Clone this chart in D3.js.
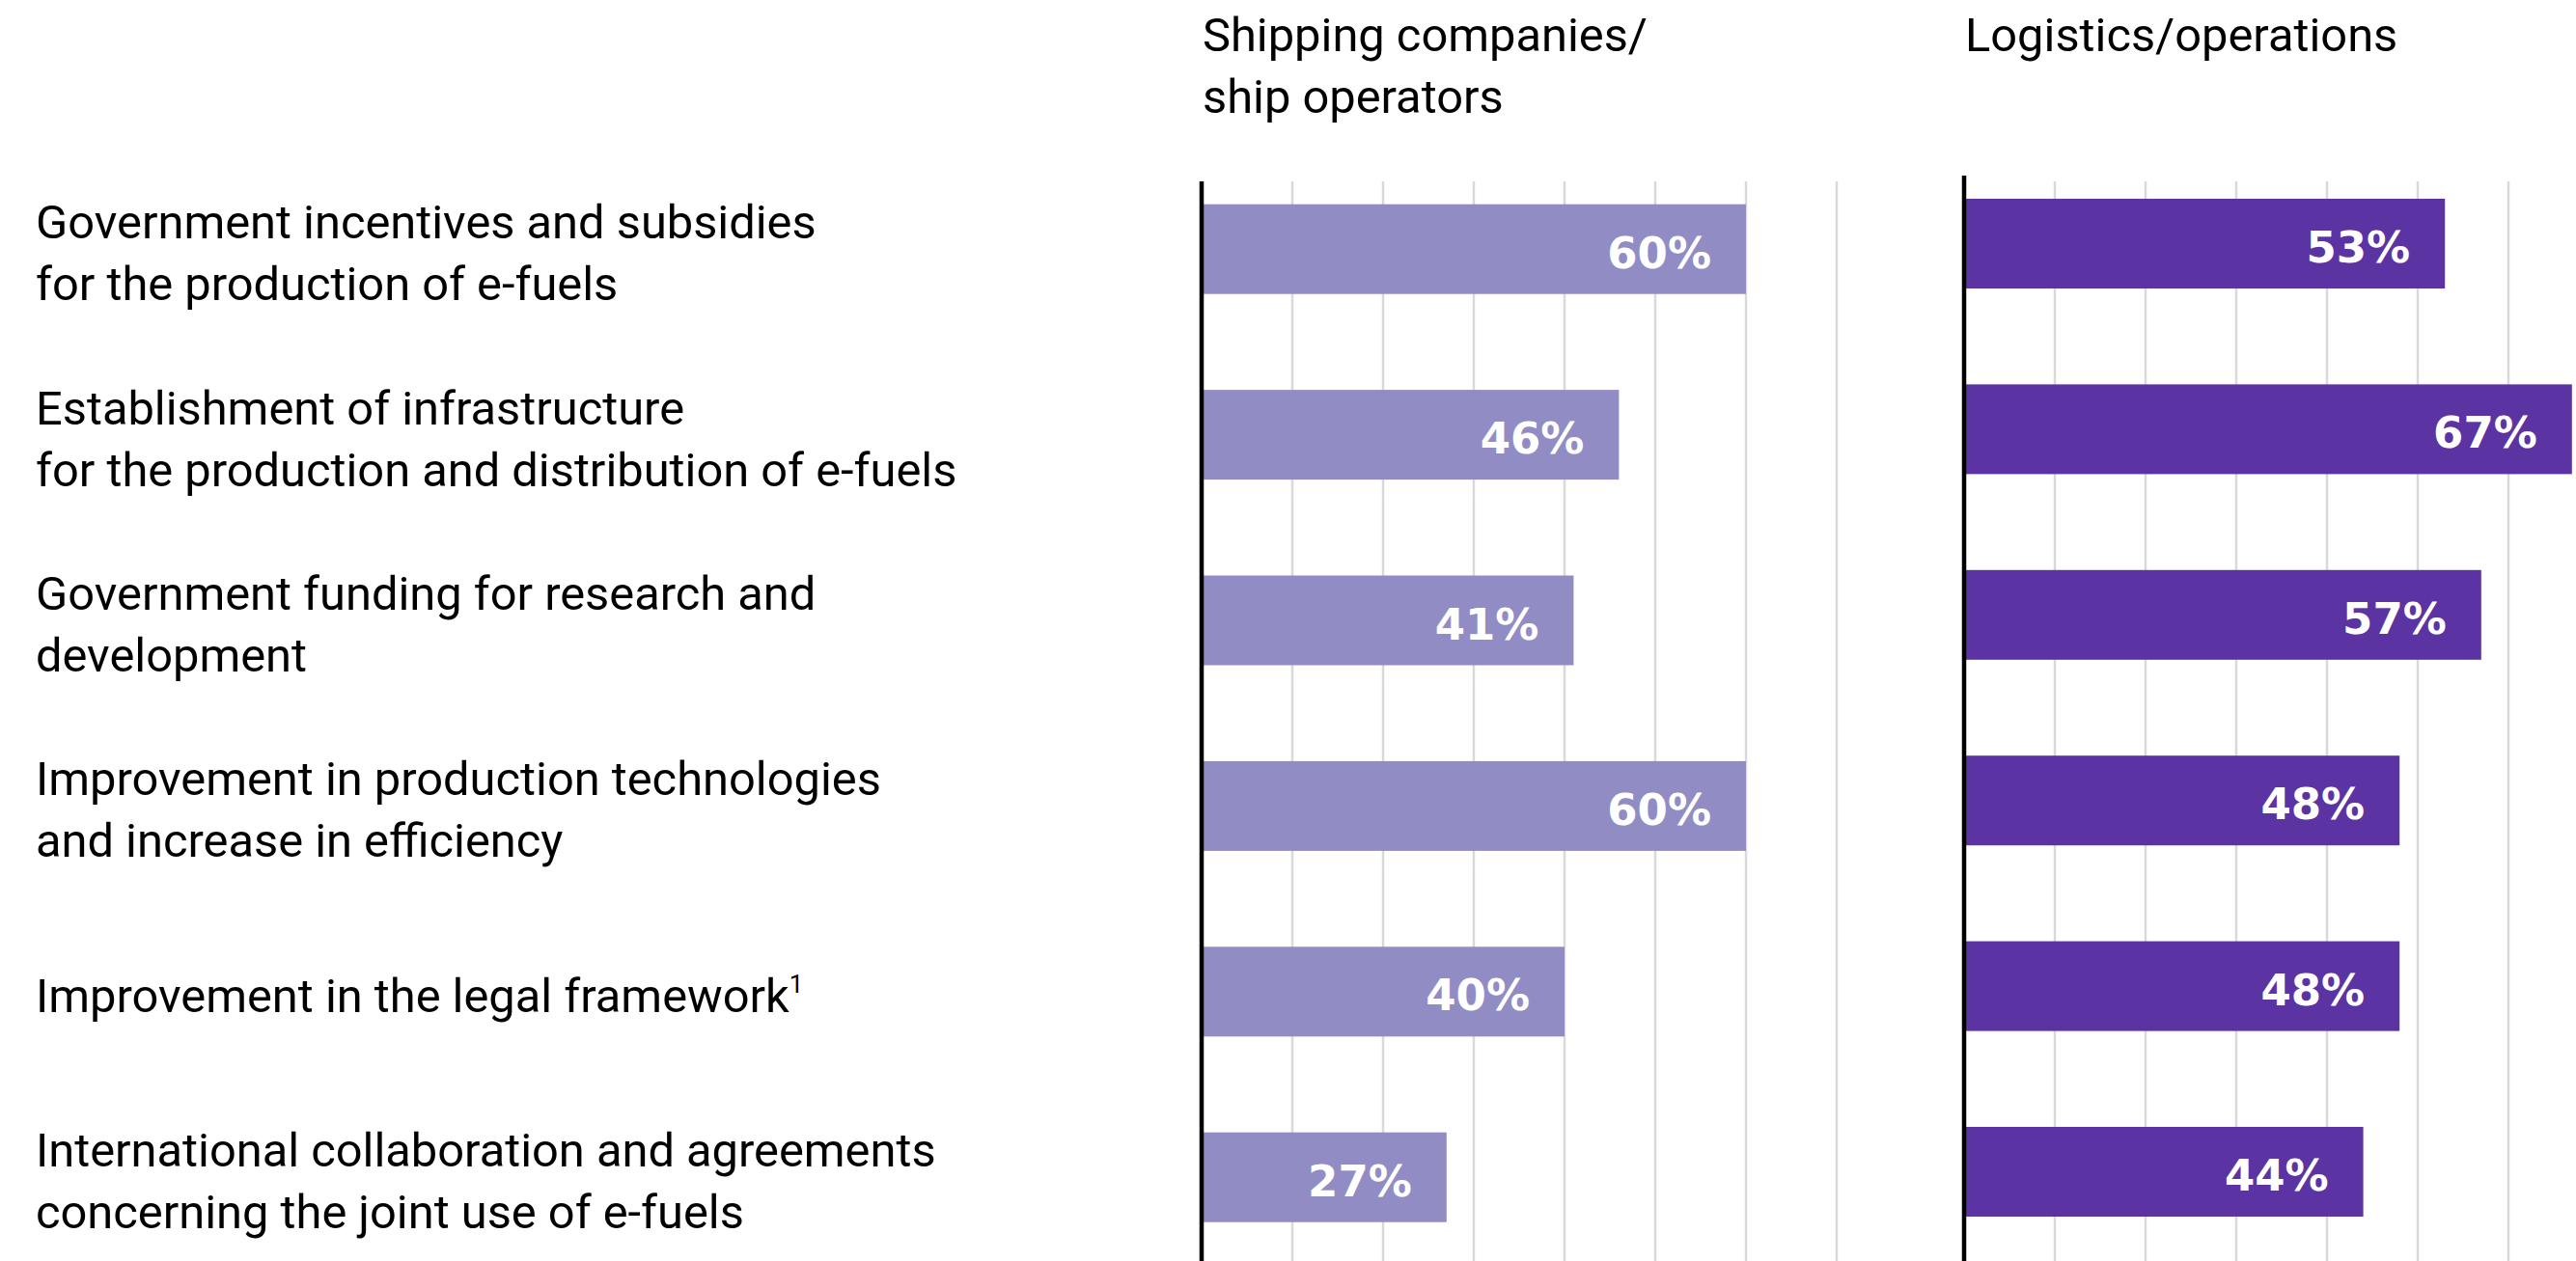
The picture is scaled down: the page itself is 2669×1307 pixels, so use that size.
<!DOCTYPE html>
<html>
<head>
<meta charset="utf-8">
<script src="https://cdn.jsdelivr.net/npm/d3@7"></script>
<style>
  html, body { margin: 0; padding: 0; background: #ffffff; }
  svg { display: block; }
</style>
</head>
<body>
<svg id="chart" width="2669" height="1307"></svg>
<script>
// Measures asked about (row labels, one array of lines per row)
const categories = [
  "incentives", "infrastructure", "funding", "technology", "legal", "international"
];
const labelLines = [
  ["Government incentives and subsidies", "for the production of e-fuels"],
  ["Establishment of infrastructure", "for the production and distribution of e-fuels"],
  ["Government funding for research and", "development"],
  ["Improvement in production technologies", "and increase in efficiency"],
  ["Improvement in the legal framework"],
  ["International collaboration and agreements", "concerning the joint use of e-fuels"]
];
const footnoteMarks = ["", "", "", "", "1", ""];

// Share of respondents (%) per group
const shipping  = [60, 46, 41, 60, 40, 27];
const logistics = [53, 67, 57, 48, 48, 44];

// Gridline positions (%)
const gridTicks = [10, 20, 30, 40, 50, 60, 70];

const panelTitles = [
  ["Shipping companies/", "ship operators"],
  ["Logistics/operations"]
];

const W = 2669, H = 1307;
const svg = d3.select("#chart");

const labelFont = "Roboto, 'Noto Sans', sans-serif";
const valueFont = "'DejaVu Sans', Verdana, sans-serif";
const labelSize = 48.8;

// Horizontal value scale shared by both panels (distance from each panel's baseline)
const x = d3.scaleLinear().domain([0, 70]).range([0, 658]);

const step = 192.4;
const pad = 0.5166;
function bandFor(top) {
  return d3.scaleBand()
    .domain(categories)
    .range([top, top + step * categories.length])
    .paddingInner(pad)
    .paddingOuter(pad / 2);
}

const panels = [
  { title: panelTitles[0], values: shipping,  color: "#918cc4", x0: 1245, axisTop: 188, bandTop: 162 },
  { title: panelTitles[1], values: logistics, color: "#5b33a3", x0: 2035, axisTop: 182, bandTop: 156.3 }
];

// Row labels on the left, centred on the rows of the first panel
const yLabels = bandFor(panels[0].bandTop);
const lineGap = 64;
const labels = svg.append("g").attr("class", "row-labels");
labelLines.forEach((lines, i) => {
  const cy = yLabels(categories[i]) + yLabels.bandwidth() / 2;
  const n = lines.length;
  lines.forEach((line, j) => {
    const t = labels.append("text")
      .attr("x", 37)
      .attr("y", cy + 21 + (j - (n - 1) / 2) * lineGap)
      .attr("font-family", labelFont)
      .attr("font-size", labelSize)
      .attr("fill", "#000")
      .text(line);
    if (j === n - 1 && footnoteMarks[i]) {
      t.append("tspan")
        .attr("font-size", 26)
        .attr("dy", -20)
        .text(footnoteMarks[i]);
    }
  });
});

panels.forEach(p => {
  const g = svg.append("g").attr("transform", `translate(${p.x0},0)`);
  const y = bandFor(p.bandTop);

  // Title
  p.title.forEach((line, j) => {
    g.append("text")
      .attr("x", 1)
      .attr("y", 53 + j * lineGap)
      .attr("font-family", labelFont)
      .attr("font-size", labelSize)
      .attr("fill", "#000")
      .text(line);
  });

  // Vertical gridlines
  g.append("g").selectAll("line")
    .data(gridTicks)
    .join("line")
      .attr("x1", d => x(d)).attr("x2", d => x(d))
      .attr("y1", 188).attr("y2", H)
      .attr("stroke", "#d9d9d9")
      .attr("stroke-width", 2.5);

  // Bars
  g.append("g").selectAll("rect")
    .data(p.values)
    .join("rect")
      .attr("x", x(0))
      .attr("y", (d, i) => y(categories[i]))
      .attr("width", d => x(d) - x(0))
      .attr("height", y.bandwidth())
      .attr("fill", p.color);

  // Value labels inside bar ends
  g.append("g").selectAll("text")
    .data(p.values)
    .join("text")
      .attr("x", d => x(d) - 36)
      .attr("y", (d, i) => y(categories[i]) + y.bandwidth() / 2 + 19.5)
      .attr("text-anchor", "end")
      .attr("font-family", valueFont)
      .attr("font-weight", "bold")
      .attr("font-size", 45)
      .attr("fill", "#ffffff")
      .text(d => d + "%");

  // Baseline axis
  g.append("line")
    .attr("x1", x(0)).attr("x2", x(0))
    .attr("y1", p.axisTop).attr("y2", H)
    .attr("stroke", "#000")
    .attr("stroke-width", 4.5);
});
</script>
</body>
</html>
